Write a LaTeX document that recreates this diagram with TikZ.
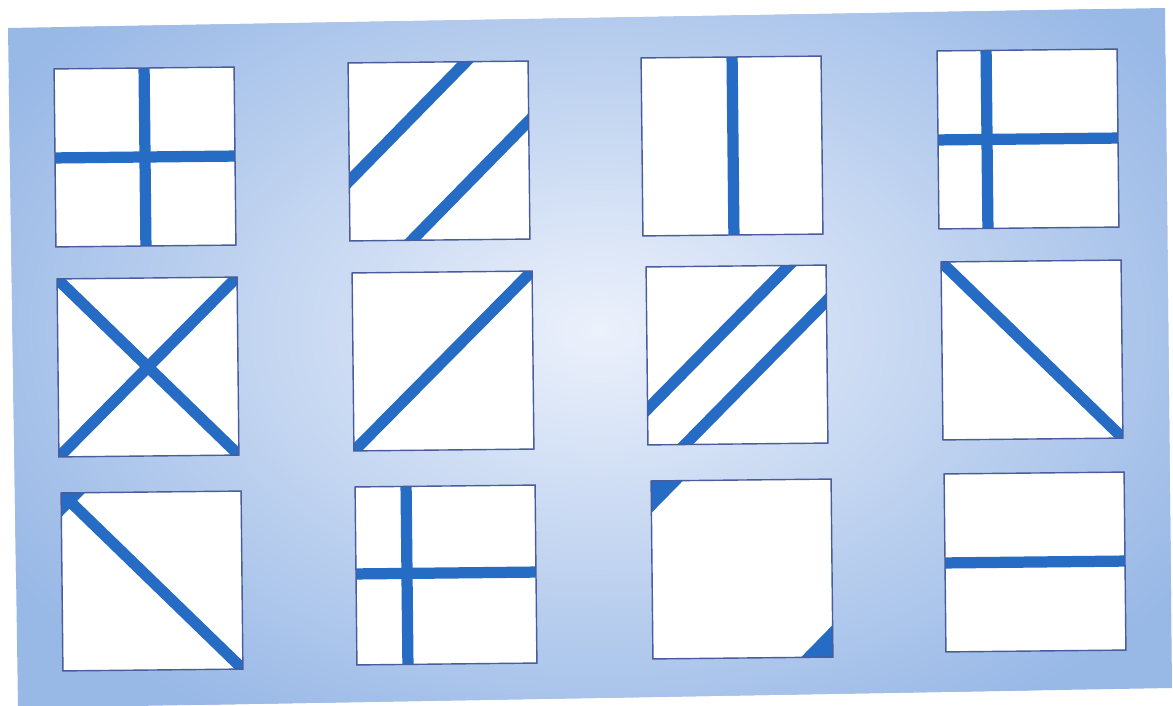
\documentclass[tikz,border=0pt]{standalone}
\definecolor{bgblue}{RGB}{152,184,230}
\definecolor{glow}{RGB}{236,241,251}
\definecolor{barblue}{RGB}{38,108,196}
\definecolor{edgeblue}{RGB}{72,92,158}
\tikzset{
    edge/.style={draw=edgeblue, line width=0.8pt},
    bar/.style={draw=barblue, line width=6.4pt},
    wedge/.style={fill=barblue},
}
% white tile, everything after it is cut to the tile
\newcommand{\tileclip}{\clip (-90,-89) rectangle (90,89); \fill[white] (-90,-89) rectangle (90,89);}
\newcommand{\tileedge}{\draw[edge] (-90,-89) rectangle (90,89);}
\begin{document}
\begin{tikzpicture}[x=0.02cm, y=-0.02cm]
    \useasboundingbox (0,0) rectangle (1173,706);
    
    % Hintergrund
    \begin{scope}
        \clip (8,28) -- (1165,8) -- (1172,688) -- (18,708) -- cycle;
        \fill[bgblue] (0,0) rectangle (1173,706);
        \shade[inner color=glow, outer color=bgblue] (600,330) ellipse (700 and 460);
    \end{scope}
    
    % erste Reihe
    \begin{scope}[shift={(145,157)}, rotate=0.6]
        \begin{scope}
            \tileclip
            \draw[bar] (0,-89) -- (0,89);
            \draw[bar] (-90,0) -- (90,0);
        \end{scope}
        \tileedge
    \end{scope}
    \begin{scope}[shift={(439,151)}, rotate=0.6]
        \begin{scope}
            \tileclip
            \draw[bar] (-100,39) -- (39,-100);
            \draw[bar] (100,-39) -- (-39,100);
        \end{scope}
        \tileedge
    \end{scope}
    \begin{scope}[shift={(732,146)}, rotate=0.6]
        \begin{scope}
            \tileclip
            \draw[bar] (1,-89) -- (1,89);
        \end{scope}
        \tileedge
    \end{scope}
    \begin{scope}[shift={(1028,139)}, rotate=0.6]
        \begin{scope}
            \tileclip
            \draw[bar] (-41,-89) -- (-41,89);
            \draw[bar] (-90,0) -- (90,0);
        \end{scope}
        \tileedge
    \end{scope}
    
    % zweite Reihe
    \begin{scope}[shift={(148,367)}, rotate=0.6]
        \begin{scope}
            \tileclip
            \draw[bar] (-100,-99) -- (100,99);
            \draw[bar] (-100,99) -- (100,-99);
        \end{scope}
        \tileedge
    \end{scope}
    \begin{scope}[shift={(443,361)}, rotate=0.6]
        \begin{scope}
            \tileclip
            \draw[bar] (-100,99) -- (100,-99);
        \end{scope}
        \tileedge
    \end{scope}
    \begin{scope}[shift={(737,355)}, rotate=0.6]
        \begin{scope}
            \tileclip
            \draw[bar] (-100,63) -- (64,-100);
            \draw[bar] (100,-63) -- (-64,100);
        \end{scope}
        \tileedge
    \end{scope}
    \begin{scope}[shift={(1032,350)}, rotate=0.6]
        \begin{scope}
            \tileclip
            \draw[bar] (-100,-99) -- (100,99);
        \end{scope}
        \tileedge
    \end{scope}
    
    % dritte Reihe
    \begin{scope}[shift={(152,581)}, rotate=0.6]
        \begin{scope}
            \tileclip
            \draw[bar] (-100,-99) -- (100,99);
            \fill[wedge] (-90,-89) -- (-66,-89) -- (-90,-65) -- cycle;
        \end{scope}
        \tileedge
    \end{scope}
    \begin{scope}[shift={(446,575)}, rotate=0.6]
        \begin{scope}
            \tileclip
            \draw[bar] (-39,-89) -- (-39,89);
            \draw[bar] (-90,-2) -- (90,-2);
        \end{scope}
        \tileedge
    \end{scope}
    \begin{scope}[shift={(742,569)}, rotate=0.6]
        \begin{scope}
            \tileclip
            \fill[wedge] (-90,-89) -- (-58,-89) -- (-90,-57) -- cycle;
            \fill[wedge] (90,89) -- (58,89) -- (90,57) -- cycle;
        \end{scope}
        \tileedge
    \end{scope}
    \begin{scope}[shift={(1035,562)}, rotate=0.6]
        \begin{scope}
            \tileclip
            \draw[bar] (-90,0) -- (90,0);
        \end{scope}
        \tileedge
    \end{scope}
\end{tikzpicture}
\end{document}
